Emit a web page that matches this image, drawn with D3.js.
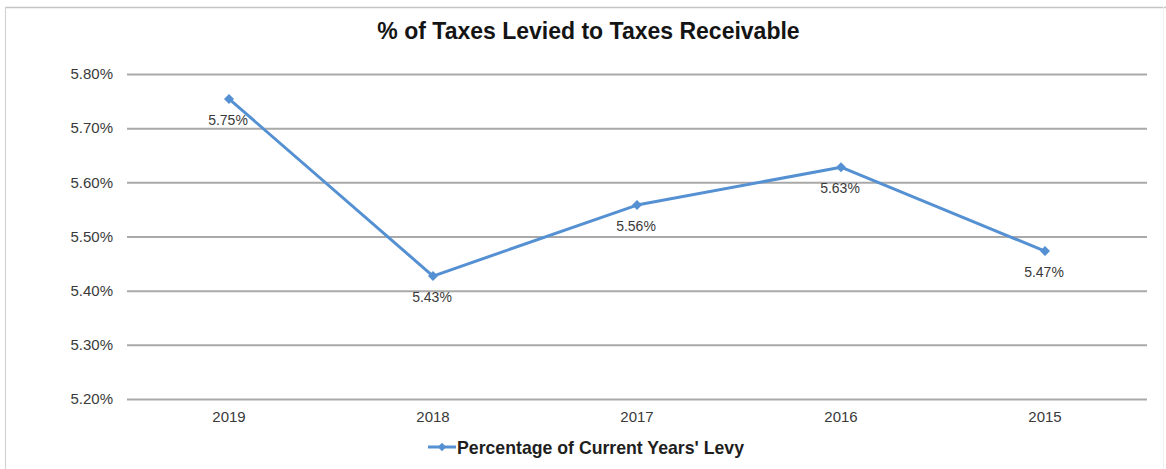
<!DOCTYPE html>
<html>
<head>
<meta charset="utf-8">
<script src="https://cdn.jsdelivr.net/npm/d3@7"></script>
<style>
  html, body { margin: 0; padding: 0; background: #ffffff; }
  svg { display: block; font-family: "Liberation Sans", Arial, sans-serif; }
</style>
</head>
<body>
<svg id="chart" width="1166" height="469"></svg>
<script>
// Share of current year's levy still receivable, by fiscal year
const years = ["2019", "2018", "2017", "2016", "2015"];
const levyPct = [5.754, 5.427, 5.558, 5.628, 5.473];
const yTicks = [5.20, 5.30, 5.40, 5.50, 5.60, 5.70, 5.80];
const seriesName = "Percentage of Current Years' Levy";
const chartTitle = "% of Taxes Levied to Taxes Receivable";

const W = 1166, H = 469;
const margin = { left: 127, right: 19, top: 74, bottom: 70 };
const blue = "#5591d2";

const svg = d3.select("#chart");

// chart frame
svg.append("line").attr("x1", 5).attr("x2", W).attr("y1", 7.5).attr("y2", 7.5)
  .attr("stroke", "#c4c4c4").attr("stroke-width", 1.5);
svg.append("line").attr("x1", 5.5).attr("x2", 5.5).attr("y1", 7).attr("y2", H)
  .attr("stroke", "#d4d4d4").attr("stroke-width", 1.2);
svg.append("line").attr("x1", 1163.5).attr("x2", 1163.5).attr("y1", 7).attr("y2", H)
  .attr("stroke", "#f0f0f0").attr("stroke-width", 1);

const x = d3.scaleBand().domain(years).range([margin.left, W - margin.right]);
const y = d3.scaleLinear().domain([5.20, 5.80]).range([H - margin.bottom, margin.top]);

// horizontal gridlines + y labels
const yAxis = d3.axisLeft(y).tickValues(yTicks)
  .tickFormat(d => d3.format(".2f")(d) + "%")
  .tickSize(-(W - margin.left - margin.right)).tickPadding(14);
const gy = svg.append("g").attr("transform", `translate(${margin.left},0)`).call(yAxis);
gy.select(".domain").remove();
gy.selectAll(".tick line").attr("stroke", "#a9a9a9").attr("stroke-width", 2);
gy.selectAll(".tick text").attr("fill", "#3a3a3a").attr("font-size", 15);

// category labels
const xAxis = d3.axisBottom(x).tickSize(0).tickPadding(12);
const gx = svg.append("g").attr("transform", `translate(0,${H - margin.bottom})`).call(xAxis);
gx.select(".domain").remove();
gx.selectAll(".tick text").attr("fill", "#3a3a3a").attr("font-size", 15);

const cx = d => x(d) + x.bandwidth() / 2;

// series line
const line = d3.line().x((d, i) => cx(years[i])).y(d => y(d));
svg.append("path").datum(levyPct).attr("d", line)
  .attr("fill", "none").attr("stroke", blue).attr("stroke-width", 3)
  .attr("stroke-linejoin", "round");

// diamond markers (squares turned 45°)
const marker = d3.symbol().type(d3.symbolSquare).size(50);
svg.selectAll(".pt").data(levyPct).join("path").attr("class", "pt")
  .attr("d", marker)
  .attr("transform", (d, i) => `translate(${cx(years[i])},${y(d)}) rotate(45)`)
  .attr("fill", blue);

// value labels below points
svg.selectAll(".lbl").data(levyPct).join("text").attr("class", "lbl")
  .attr("x", (d, i) => cx(years[i]) - 1)
  .attr("y", d => y(d) + 26)
  .attr("text-anchor", "middle").attr("font-size", 14).attr("fill", "#3a3a3a")
  .text(d => d3.format(".2f")(d) + "%");

// title
svg.append("text").attr("x", 588.5).attr("y", 39).attr("text-anchor", "middle")
  .attr("font-size", 23).attr("font-weight", "bold").attr("fill", "#141414")
  .text(chartTitle);

// legend
const lg = svg.append("g").attr("transform", "translate(428,447)");
lg.append("line").attr("x1", 0).attr("x2", 28).attr("y1", 0).attr("y2", 0)
  .attr("stroke", blue).attr("stroke-width", 3);
lg.append("path").attr("d", d3.symbol().type(d3.symbolSquare).size(36))
  .attr("transform", "translate(14,0) rotate(45)").attr("fill", blue);
lg.append("text").attr("x", 29).attr("y", 6.5).attr("font-size", 17.7)
  .attr("font-weight", "bold").attr("fill", "#1e1e1e").text(seriesName);
</script>
</body>
</html>
